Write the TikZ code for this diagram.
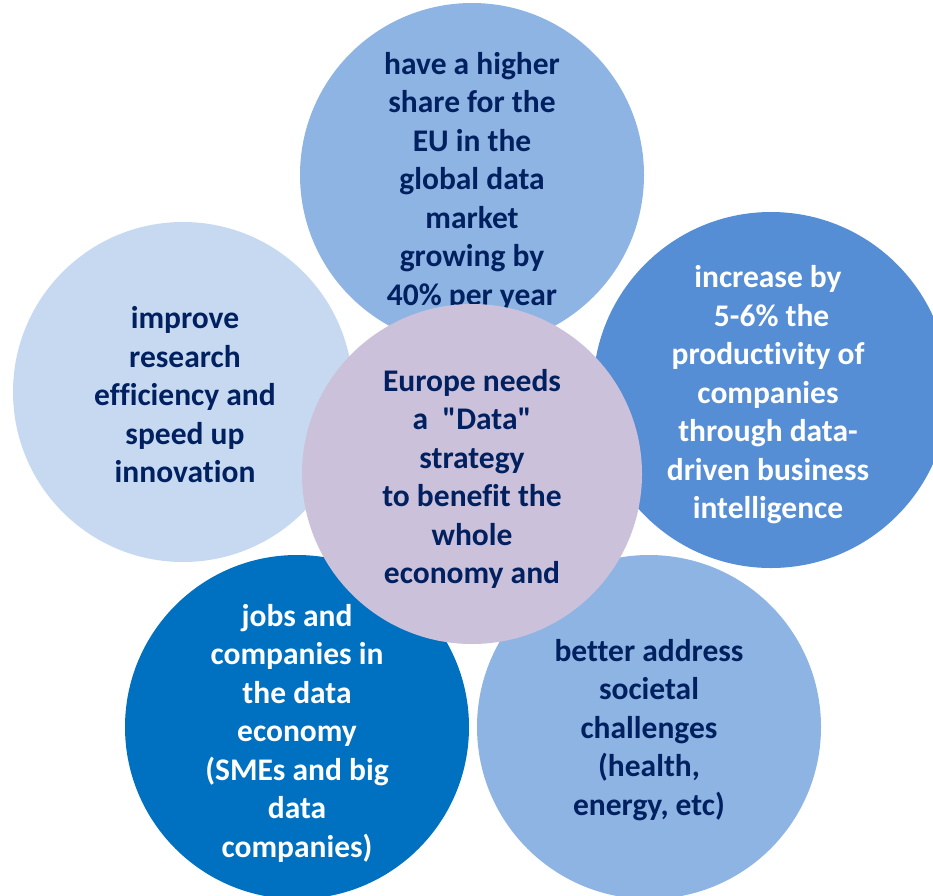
\documentclass[tikz,border=0pt]{standalone}
\usepackage{fontspec}
\setmainfont{Carlito}[Ligatures={TeXOff,NoCommon}]
\definecolor{navy}{HTML}{002060}
\definecolor{midblue}{HTML}{8EB4E3}
\definecolor{paleblue}{HTML}{C6D9F1}
\definecolor{brightblue}{HTML}{558ED5}
\definecolor{deepblue}{HTML}{0070C0}
\definecolor{lavender}{HTML}{CCC1DA}
\def\marketcircle{(472,175) circle (172)}
\def\researchcircle{(183,392) circle (170)}
\def\productcircle{(771,390) circle (178)}
\def\jobscircle{(297,727) circle (172)}
\def\societycircle{(649,727) circle (172)}
\def\europecircle{(472,474) circle (170)}
\tikzset{words/.style={align=center,text=navy,inner sep=0pt,
  font=\fontsize{31.5}{38.5}\selectfont\bfseries}}

\begin{document}
\begin{tikzpicture}[x=1pt,y=-1pt]
  \useasboundingbox (0,0) rectangle (933,895);
  % outer ring, back to front
  \fill[midblue] \marketcircle;
  \node[words] (market) at (472,181)
    {have a higher\\share for the\\EU in the\\global data\\market\\growing by\\40\% per year};
  \fill[paleblue] \researchcircle;
  \node[words] (research) at (185,395)
    {improve\\research\\efficiency and\\speed up\\innovation};
  \fill[brightblue] \productcircle;
  \node[words,text=white] (productivity) at (768,395)
    {increase by\\\hspace*{.23em}5-6\% the\\productivity of\\companies\\through data-\\driven business\\intelligence};
  \fill[deepblue] \jobscircle;
  \node[words,text=white] (jobs) at (297,733)
    {jobs and\\companies in\\the data\\economy\\(SMEs and big\\data\\companies)};
  \fill[midblue] \societycircle;
  \node[words] (societal) at (649,730)
    {better address\\societal\\challenges\\(health,\\energy, etc)};
  % centre on top
  \fill[lavender] \europecircle;
  \node[words] (europe) at (472,479)
    {Europe needs\\a\ \ "Data"\\strategy\\to benefit the\\whole\\economy and};
\end{tikzpicture}
\end{document}
